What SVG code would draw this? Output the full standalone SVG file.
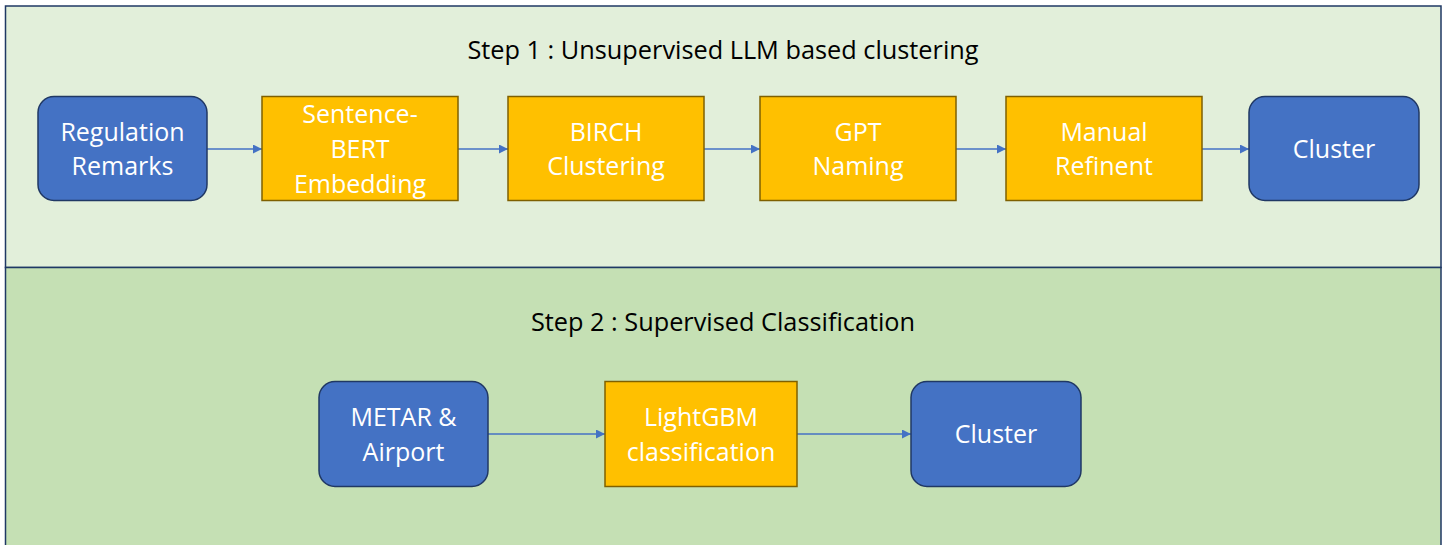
<svg xmlns="http://www.w3.org/2000/svg" width="1445" height="545" viewBox="0 0 1445 545">
<style>
.panel{stroke:#1F3864;stroke-width:1.5}
.blue{fill:#4472C4;stroke:#203864;stroke-width:1.5}
.gold{fill:#FFC000;stroke:#7F6000;stroke-width:1.5}
.lbl{font-family:"Open Sans","Liberation Sans",sans-serif;font-size:25px;fill:#FFFFFF;text-anchor:middle}
.title{font-family:"Open Sans","Liberation Sans",sans-serif;font-size:25.3px;fill:#000000;text-anchor:middle}
.conn{stroke:#4472C4;stroke-width:1.5;fill:none;marker-end:url(#ah)}
</style>
<defs>
<marker id="ah" viewBox="0 0 10 10" refX="10" refY="5" markerWidth="10" markerHeight="9" markerUnits="userSpaceOnUse" orient="auto">
<path d="M0,0 L10,5 L0,10 z" fill="#4472C4"/>
</marker>
</defs>
<rect width="1445" height="545" fill="#FFFFFF"/>
<g id="panel1">
<rect class="panel" x="5.5" y="6" width="1435.5" height="261.5" fill="#E2EFDA"/>
<text class="title" x="723" y="59">Step 1 : Unsupervised LLM based clustering</text>
</g>
<g id="panel2">
<rect class="panel" x="5.5" y="267.5" width="1435.5" height="290" fill="#C5E0B4"/>
<text class="title" x="723" y="331">Step 2 : Supervised Classification</text>
</g>
<g id="connectors">
<line class="conn" x1="207" y1="149" x2="262" y2="149"/>
<line class="conn" x1="458" y1="149" x2="508" y2="149"/>
<line class="conn" x1="704" y1="149" x2="760" y2="149"/>
<line class="conn" x1="956" y1="149" x2="1006" y2="149"/>
<line class="conn" x1="1202" y1="149" x2="1249" y2="149"/>
<line class="conn" x1="488" y1="434" x2="605" y2="434"/>
<line class="conn" x1="797" y1="434" x2="911" y2="434"/>
</g>
<g id="regulation-remarks">
<rect class="blue" x="38" y="96.5" width="169" height="104" rx="16"/>
<text class="lbl" x="122.5" y="141">Regulation</text>
<text class="lbl" x="122.5" y="175">Remarks</text>
</g>
<g id="sentence-bert">
<rect class="gold" x="262" y="96.5" width="196" height="104"/>
<text class="lbl" x="360" y="123">Sentence-</text>
<text class="lbl" x="360" y="158">BERT</text>
<text class="lbl" x="360" y="193">Embedding</text>
</g>
<g id="birch">
<rect class="gold" x="508" y="96.5" width="196" height="104"/>
<text class="lbl" x="606" y="141">BIRCH</text>
<text class="lbl" x="606" y="175">Clustering</text>
</g>
<g id="gpt">
<rect class="gold" x="760" y="96.5" width="196" height="104"/>
<text class="lbl" x="858" y="141">GPT</text>
<text class="lbl" x="858" y="175">Naming</text>
</g>
<g id="manual">
<rect class="gold" x="1006" y="96.5" width="196" height="104"/>
<text class="lbl" x="1104" y="141">Manual</text>
<text class="lbl" x="1104" y="175">Refinent</text>
</g>
<g id="cluster1">
<rect class="blue" x="1249" y="96.5" width="170" height="104" rx="16"/>
<text class="lbl" x="1334" y="158">Cluster</text>
</g>
<g id="metar">
<rect class="blue" x="319" y="381.5" width="169" height="105" rx="16"/>
<text class="lbl" x="403.5" y="426">METAR &amp;</text>
<text class="lbl" x="403.5" y="461">Airport</text>
</g>
<g id="lightgbm">
<rect class="gold" x="605" y="381.5" width="192" height="105"/>
<text class="lbl" x="701" y="426">LightGBM</text>
<text class="lbl" x="701" y="461">classification</text>
</g>
<g id="cluster2">
<rect class="blue" x="911" y="381.5" width="170" height="105" rx="16"/>
<text class="lbl" x="996" y="443">Cluster</text>
</g>
</svg>
